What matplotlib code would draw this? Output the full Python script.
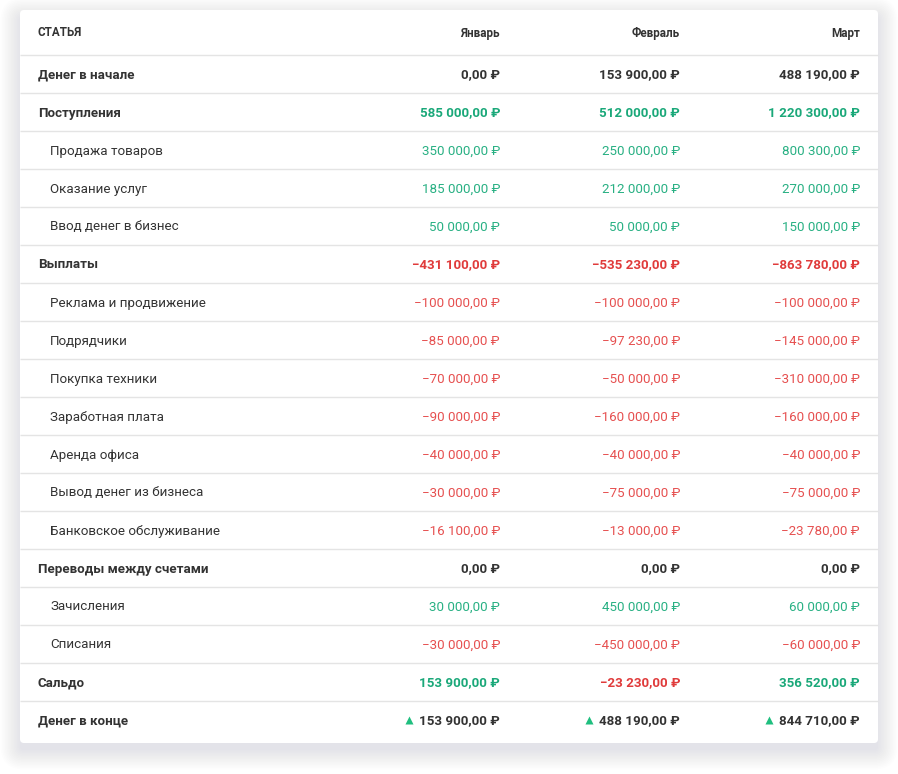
import matplotlib
matplotlib.use("Agg")
import matplotlib.pyplot as plt
from matplotlib.patches import FancyBboxPatch

plt.rcParams['font.family'] = ['Roboto', 'DejaVu Sans']

columns = ["Январь", "Февраль", "Март"]
header_label = "СТАТЬЯ"
labels = ["Денег в начале", "Поступления", "Продажа товаров", "Оказание услуг",
          "Ввод денег в бизнес", "Выплаты", "Реклама и продвижение", "Подрядчики",
          "Покупка техники", "Заработная плата", "Аренда офиса",
          "Вывод денег из бизнеса", "Банковское обслуживание",
          "Переводы между счетами", "Зачисления", "Списания", "Сальдо", "Денег в конце"]
is_main = [1, 1, 0, 0, 0, 1, 0, 0, 0, 0, 0, 0, 0, 1, 0, 0, 1, 1]
row_kind = ["plain", "signed", "signed", "signed", "signed", "signed", "signed", "signed",
            "signed", "signed", "signed", "signed", "signed", "plain", "signed", "signed",
            "signed", "end"]
jan = [0.00, 585000.00, 350000.00, 185000.00, 50000.00, -431100.00, -100000.00, -85000.00,
       -70000.00, -90000.00, -40000.00, -30000.00, -16100.00, 0.00, 30000.00, -30000.00,
       153900.00, 153900.00]
feb = [153900.00, 512000.00, 250000.00, 212000.00, 50000.00, -535230.00, -100000.00, -97230.00,
       -50000.00, -160000.00, -40000.00, -75000.00, -13000.00, 0.00, 450000.00, -450000.00,
       -23230.00, 488190.00]
mar = [488190.00, 1220300.00, 800300.00, 270000.00, 150000.00, -863780.00, -100000.00, -145000.00,
       -310000.00, -160000.00, -40000.00, -75000.00, -23780.00, 0.00, 60000.00, -60000.00,
       356520.00, 844710.00]

W, H = 898, 774
fig = plt.figure(figsize=(W / 100, H / 100), dpi=100)
ax = fig.add_axes([0, 0, 1, 1])
ax.set_xlim(0, W)
ax.set_ylim(H, 0)
ax.axis("off")
fig.patch.set_facecolor("white")

card_x0, card_x1, card_y0, card_y1 = 20, 878, 10, 743
# shadow
for i in range(14):
    pad = i * 1.5
    ax.add_patch(FancyBboxPatch((card_x0 - pad, card_y0 - pad + 7), card_x1 - card_x0 + 2 * pad,
                                card_y1 - card_y0 + 2 * pad,
                                boxstyle="round,pad=0,rounding_size=%f" % (4 + pad),
                                fc="#5a6070", ec="none", alpha=0.007, zorder=1))
ax.add_patch(FancyBboxPatch((card_x0, card_y0), card_x1 - card_x0, card_y1 - card_y0,
                            boxstyle="round,pad=0,rounding_size=4",
                            fc="white", ec="none", zorder=2))

GREEN_B, GREEN = "#1aa879", "#28b083"
RED_B, RED = "#e03b3b", "#e65050"
DARK = "#333333"
FS = 9.6
col_x = [500, 680, 860]

def fmt(v):
    s = "{:,.2f}".format(abs(v)).replace(",", " ").replace(".", ",")
    return ("\u2212" if v < 0 else "") + s + " \u20bd"

# header
hy = 33
ax.text(38, hy, header_label, fontsize=8.4, fontweight="bold", color=DARK, va="center", ha="left", zorder=5)
for c, x in zip(columns, col_x):
    ax.text(x, hy, c, fontsize=8.4, fontweight="bold", color=DARK, va="center", ha="right", zorder=5)

first_line = 55
step = 38
for i in range(len(labels) + 1):
    y = first_line + i * step
    if y < card_y1 - 5:
        ax.plot([card_x0, card_x1], [y, y], color="#e4e4e4", lw=1.0, zorder=3, solid_capstyle="butt")

end_texts = []
for i, lab in enumerate(labels):
    y = first_line + i * step + step / 2 + 1
    bold = bool(is_main[i])
    ax.text(38 if bold else 50, y, lab, fontsize=FS, fontweight="bold" if bold else "normal",
            color=DARK, va="center", ha="left", zorder=5)
    for vals, x in zip([jan, feb, mar], col_x):
        v = vals[i]
        if row_kind[i] == "signed" and v != 0:
            if v > 0:
                color = GREEN_B if bold else GREEN
            else:
                color = RED_B if bold else RED
        else:
            color = DARK
        t = ax.text(x, y, fmt(v), fontsize=FS, fontweight="bold" if bold else "normal",
                    color=color, va="center", ha="right", zorder=5)
        if row_kind[i] == "end":
            end_texts.append((t, x, y, v))

fig.canvas.draw()
r = fig.canvas.get_renderer()
inv = ax.transData.inverted()
for t, x, y, v in end_texts:
    bb = t.get_window_extent(renderer=r)
    left = inv.transform((bb.x0, bb.y0))[0]
    ax.plot([left - 10], [y - 1], marker="^" if v >= 0 else "v", ms=5.5,
            color="#1fbf7f", mec="none", zorder=5)

fig.savefig("out.png", dpi=100, facecolor="white")
